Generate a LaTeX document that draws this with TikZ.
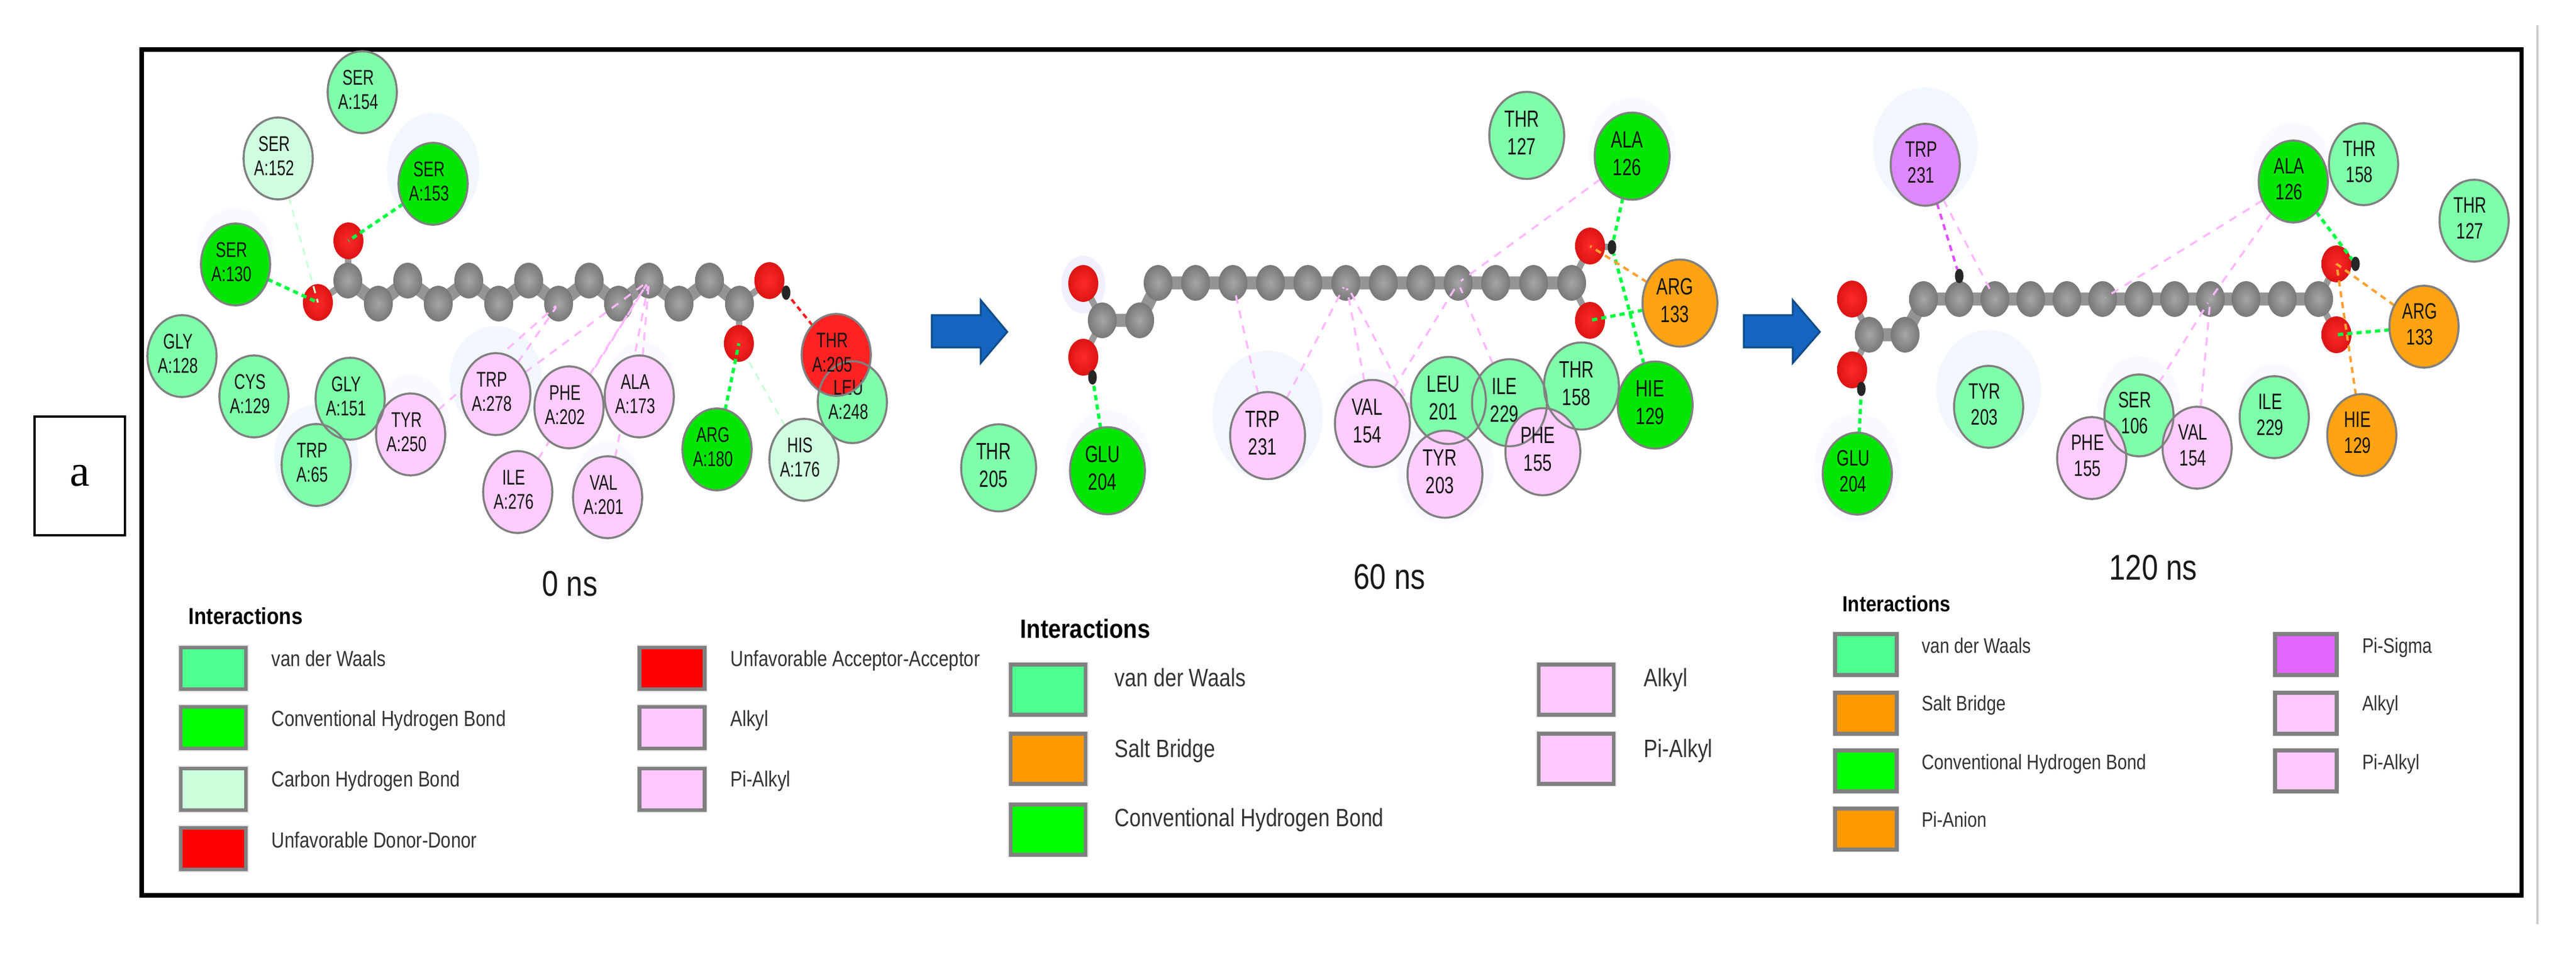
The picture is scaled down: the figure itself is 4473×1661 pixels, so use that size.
\documentclass[tikz,border=0pt]{standalone}
\usepackage{fontspec}
\usetikzlibrary{shapes.geometric}
\setmainfont{Liberation Serif}
\newfontfamily\rsdf{Liberation Sans}[FakeStretch=0.72]
\newfontfamily\legf{Liberation Sans}[FakeStretch=0.82]
\newfontfamily\capf{Liberation Sans}[FakeStretch=0.82]
\newfontfamily\intf{Liberation Sans Bold}[FakeStretch=0.87]
\definecolor{cvdw}{HTML}{80FFAA}
\definecolor{chb}{HTML}{00E600}
\definecolor{cch}{HTML}{CFFFE0}
\definecolor{cpink}{HTML}{FFCCFF}
\definecolor{cred}{HTML}{FF2222}
\definecolor{corg}{HTML}{FFA312}
\definecolor{cpur}{HTML}{DD88FF}
\definecolor{halo}{HTML}{F2F7FE}
\definecolor{halob}{HTML}{F8FAFF}
\definecolor{rim}{HTML}{808080}
\definecolor{lvdw}{HTML}{4DFF8F}
\definecolor{lhb}{HTML}{00FF00}
\definecolor{lch}{HTML}{CCFFDC}
\definecolor{lred}{HTML}{FF0000}
\definecolor{lpink}{HTML}{FFC8FF}
\definecolor{lorg}{HTML}{FF9900}
\definecolor{lpur}{HTML}{E066FF}
\definecolor{lhb2}{HTML}{00FF40}
\definecolor{lnpink}{HTML}{FFB8FF}
\definecolor{lnorg}{HTML}{FFA030}
\definecolor{lnpur}{HTML}{E050FF}
\definecolor{lnpale}{HTML}{C8FFD8}
\definecolor{arrowb}{HTML}{1565C0}
\definecolor{arrowd}{HTML}{0F4C8A}
\definecolor{ored}{HTML}{FF2A2A}
\definecolor{oredd}{HTML}{DC1414}
\definecolor{cgi}{HTML}{A6A6A6}
\definecolor{cgo}{HTML}{787878}
\pgfdeclarelayer{halolayer}
\pgfdeclarelayer{bondlayer}
\pgfdeclarelayer{atomlayer}
\pgfdeclarelayer{connlayer}
\pgfdeclarelayer{filllayer}
\pgfsetlayers{halolayer,bondlayer,atomlayer,connlayer,filllayer,main}
\tikzset{
 res/.style={ellipse,draw=rim,line width=1pt,inner sep=0pt,outer sep=0pt,
   minimum width=2*\rw,minimum height=2*\rh,text=black!92,font=\rsdfont},
 catom/.style={ellipse,inner sep=0pt,outer sep=0pt,minimum width=0.50cm,minimum height=0.62cm,
   shade,inner color=cgi,outer color=cgo},
 oatom/.style={ellipse,inner sep=0pt,outer sep=0pt,minimum width=0.52cm,minimum height=0.64cm,
   shade,inner color=ored,outer color=oredd},
 hatom/.style={ellipse,inner sep=0pt,outer sep=0pt,minimum width=0.15cm,minimum height=0.25cm,fill=black!85},
 bond/.style={line width=6.5pt,draw=black!42,line join=round,line cap=round},
 sbond/.style={line width=3.2pt,draw=black!40},
 hb/.style={line width=1.6pt,draw=lhb2,dash pattern=on 2.6pt off 2pt},
 pale/.style={line width=0.9pt,draw=lnpale,dash pattern=on 3.5pt off 3pt},
 pinkc/.style={line width=1pt,draw=lnpink,dash pattern=on 4pt off 3.6pt,shorten >=-6pt},
 purc/.style={line width=1.2pt,draw=lnpur,dash pattern=on 3pt off 2.4pt},
 orgc/.style={line width=1.2pt,draw=lnorg,dash pattern=on 3pt off 2.4pt},
 redc/.style={line width=1.2pt,draw=red!90,dash pattern=on 2.6pt off 2pt},
 swatch/.style={rectangle,draw=rim,line width=1.9pt,inner sep=0pt,outer sep=0pt,
   preaction={draw=black!12,line width=2.8pt}},
 legtxt/.style={anchor=base west,inner sep=0pt,text=black!80},
 captxt/.style={anchor=base west,inner sep=0pt,text=black!90,font=\capf\fontsize{17.6}{20}\selectfont},
 inttxt/.style={anchor=base west,inner sep=0pt,text=black},
 arrowp/.style={fill=arrowb,draw=arrowd,line width=0.9pt,line join=miter},
}
\newcommand{\rt}[2]{\begin{tabular}{@{}c@{}}#1\\#2\end{tabular}\kern\rk}
\newcommand{\res}[6]{%
  \node[res] (#1) at (#2,#3) {\rt{#5}{#6}};
  \begin{pgfonlayer}{filllayer}
    \fill[#4] (#1.center) ellipse [x radius=\rw,y radius=\rh];
  \end{pgfonlayer}}
\newcommand{\hal}[4]{\fill[halo] (#1,#2) ellipse [x radius=#3*0.01cm,y radius=#4*0.01cm];}
\newcommand{\halb}[4]{\fill[halob] (#1,#2) ellipse [x radius=#3*0.01cm,y radius=#4*0.01cm];}
\newcommand{\swt}[6]{\node[swatch,fill=#4,minimum width=(#5-7)*0.01cm,minimum height=(#6-7)*0.01cm] (#1) at (#2,#3) {};}
\begin{document}
\begin{tikzpicture}[x=0.01cm,y=-0.01cm]
\useasboundingbox (0,0) rectangle (4473,1661);
% frame, label, rule
\node[draw=black,line width=1pt,minimum width=1.57cm,minimum height=2.06cm,inner sep=0pt,outer sep=0pt,
  font=\fontsize{22}{24}\selectfont] (lab) at (138.5,826) {\raisebox{-4pt}{a}};
\draw[black,line width=2.1pt] (246,86) rectangle (4378.5,1554);
\coordinate (ruleT) at (4406,44);
\coordinate (ruleB) at (4406,1604);
\draw[black!20,line width=1.1pt] (ruleT) -- (ruleB);
% halos
\begin{pgfonlayer}{halolayer}
\fill[white] (0,0) rectangle (4473,1661);
\hal{752}{293}{80}{97}\halb{409}{436}{67}{75}\hal{861}{657}{80}{91}\halb{713}{735}{67}{85}
\hal{549}{793}{73}{91}\halb{1113}{678}{62}{85}\halb{1055}{854}{62}{88}
\hal{2201}{721}{96}{112}\halb{2834}{260}{76}{90}\halb{1923}{806}{76}{94}\halb{2509}{809}{85}{100}\halb{2383}{730}{70}{90}
\fill[blue!6] (1881,494) ellipse [x radius=.38cm,y radius=.5cm];
\hal{3343}{255}{91}{103}\hal{3453}{676}{91}{103}\halb{3714}{706}{72}{88}\halb{3982}{303}{72}{90}\halb{3225}{812}{75}{95}\halb{3949}{715}{65}{85}
\end{pgfonlayer}
% ---------------- panel 0 ns
\begin{pgfonlayer}{atomlayer}
\foreach \n/\x in {1/604,2/708,3/814,4/918,5/1023,6/1127,7/1232} \node[catom] (at\n) at (\x,487) {};
\foreach \n/\x in {1/657,2/761,3/866,4/970,5/1074,6/1179,7/1284} \node[catom] (ab\n) at (\x,527) {};
\node[oatom] (aOt) at (605,418) {};
\node[oatom] (aOl) at (552,525) {};
\node[oatom] (aOr) at (1336,487) {};
\node[oatom] (aOb) at (1283,596) {};
\node[hatom] (aH) at (1365,508) {};
\end{pgfonlayer}
\begin{pgfonlayer}{bondlayer}
\draw[bond] (at1.center)--(ab1.center)--(at2.center)--(ab2.center)--(at3.center)--(ab3.center)--(at4.center)--(ab4.center)--(at5.center)--(ab5.center)--(at6.center)--(ab6.center)--(at7.center)--(ab7.center);
\draw[sbond] (at1.center)--(aOt.center);
\draw[sbond] (at1.center)--(aOl.center);
\draw[sbond] (ab7.center)--(aOr.center);
\draw[sbond] (ab7.center)--(aOb.center);
\draw[sbond] (aOr.center)--(aH.center);
\end{pgfonlayer}
\def\rw{0.6cm}\def\rh{0.71cm}\def\rk{4pt}
\def\rsdfont{\rsdf\fontsize{10.5}{11.9}\selectfont}
\res{aS154}{629}{160}{cvdw}{SER}{A:154}
\res{aS152}{483}{275}{cch}{SER}{A:152}
\res{aS153}{752}{319}{chb}{SER}{A:153}
\res{aS130}{409}{459}{chb}{SER}{A:130}
\res{aG128}{316}{618}{cvdw}{GLY}{A:128}
\res{aC129}{441}{688}{cvdw}{CYS}{A:129}
\res{aG151}{608}{692}{cvdw}{GLY}{A:151}
\res{aT65}{549}{807}{cvdw}{TRP}{A:65}
\res{aY250}{713}{754}{cpink}{TYR}{A:250}
\res{aT278}{861}{684}{cpink}{TRP}{A:278}
\res{aP202}{988}{707}{cpink}{PHE}{A:202}
\res{aA173}{1110}{688}{cpink}{ALA}{A:173}
\res{aI276}{899}{854}{cpink}{ILE}{A:276}
\res{aV201}{1055}{863}{cpink}{VAL}{A:201}
\res{aR180}{1245}{780}{chb}{ARG}{A:180}
\res{aL248}{1480}{698}{cvdw}{LEU}{A:248}
\res{aH176}{1396}{798}{cch}{HIS}{A:176}
\res{aT205}{1452}{616}{cred}{THR}{A:205}
\begin{pgfonlayer}{connlayer}
\draw[hb] (aS153)--(aOt.center);
\draw[hb] (aS130)--(aOl.center);
\draw[pale] (aS152)--(aOl.center);
\draw[redc] (aT205)--(aH);
\draw[hb] (aR180)--(aOb.center);
\draw[pale] (aH176)--(aOb);
\draw[pinkc] (aY250)--(ab4);
\draw[pinkc] (aT278)--(ab4);
\draw[pinkc] (aT278)--(at6);
\draw[pinkc] (aP202)--(at6);
\draw[pinkc] (aI276)--(at6);
\draw[pinkc] (aA173)--(at6);
\draw[pinkc] (aV201)--(at6);
\end{pgfonlayer}
% arrow 1
\draw[arrowp] (1618,547)--(1703,547)--(1703,521)--(1749,576)--(1703,630)--(1703,603)--(1618,603)--cycle;
% ---------------- panel 60 ns
\begin{pgfonlayer}{atomlayer}
\foreach \n/\x in {1/2011,2/2076,3/2141,4/2206,5/2271,6/2337,7/2402,8/2467,9/2532,10/2597,11/2663,12/2729} \node[catom] (bt\n) at (\x,491) {};
\node[catom] (bl1) at (1979,556) {};
\node[catom] (bl2) at (1914,556) {};
\node[oatom] (bO1) at (1881,492) {};
\node[oatom] (bO2) at (1881,620) {};
\node[hatom] (bH1) at (1897,655) {};
\node[oatom] (bO3) at (2761,427) {};
\node[oatom] (bO4) at (2761,556) {};
\node[hatom] (bH2) at (2799,429) {};
\end{pgfonlayer}
\begin{pgfonlayer}{bondlayer}
\draw[bond] (bl2.center)--(bl1.center)--(bt1.center)--(bt12.center);
\draw[sbond] (bl2.center)--(bO1.center);
\draw[sbond] (bl2.center)--(bO2.center);
\draw[sbond] (bO2.center)--(bH1.center);
\draw[sbond] (bt12.center)--(bO3.center);
\draw[sbond] (bt12.center)--(bO4.center);
\draw[sbond] (bO3.center)--(bH2.center);
\end{pgfonlayer}
\def\rw{0.65cm}\def\rh{0.755cm}\def\rk{5pt}
\def\rsdfont{\rsdf\fontsize{11.6}{13.6}\selectfont}
\res{bT127}{2651}{235}{cvdw}{THR}{127}
\res{bA126}{2834}{271}{chb}{ALA}{126}
\res{bR133}{2917}{526}{corg}{ARG}{133}
\res{bH129}{2874}{703}{chb}{HIE}{129}
\res{bT158}{2746}{670}{cvdw}{THR}{158}
\res{bL201}{2515}{695}{cvdw}{LEU}{201}
\res{bI229}{2621}{699}{cvdw}{ILE}{229}
\res{bF155}{2679}{784}{cpink}{PHE}{155}
\res{bY203}{2509}{823}{cpink}{TYR}{203}
\res{bV154}{2383}{735}{cpink}{VAL}{154}
\res{bT231}{2201}{756}{cpink}{TRP}{231}
\res{bE204}{1923}{817}{chb}{GLU}{204}
\res{bT205}{1734}{812}{cvdw}{THR}{205}
\begin{pgfonlayer}{connlayer}
\draw[hb] (bA126)--(bH2);
\draw[hb] (bH129)--(bH2);
\draw[hb] (bR133)--(bO4.center);
\draw[orgc] (bR133)--(bO3.center);
\draw[hb] (bE204)--(bH1);
\draw[pinkc] (bT231)--(bt3);
\draw[pinkc] (bT231)--(bt6);
\draw[pinkc] (bV154)--(bt6);
\draw[pinkc] (bY203)--(bt6);
\draw[pinkc] (bV154)--(bt9);
\draw[pinkc] (bI229)--(bt9);
\draw[pinkc] (bA126)--(bt9);
\end{pgfonlayer}
% arrow 2
\draw[arrowp] (3028,547)--(3113,547)--(3113,521)--(3160,576)--(3113,630)--(3113,603)--(3028,603)--cycle;
% ---------------- panel 120 ns
\begin{pgfonlayer}{atomlayer}
\foreach \n/\x in {1/3340,2/3402,3/3464,4/3526,5/3589,6/3651,7/3714,8/3776,9/3838,10/3900,11/3963,12/4026} \node[catom] (ct\n) at (\x,519) {};
\node[catom] (cl1) at (3308,581) {};
\node[catom] (cl2) at (3246,581) {};
\node[oatom] (cO1) at (3216,519) {};
\node[oatom] (cO2) at (3216,642) {};
\node[hatom] (cH1) at (3232,675) {};
\node[oatom] (cO3) at (4057,458) {};
\node[oatom] (cO4) at (4057,581) {};
\node[hatom] (cH2) at (4090,458) {};
\node[hatom] (cH3) at (3402,479) {};
\end{pgfonlayer}
\begin{pgfonlayer}{bondlayer}
\draw[bond] (cl2.center)--(cl1.center)--(ct1.center)--(ct12.center);
\draw[sbond] (cl2.center)--(cO1.center);
\draw[sbond] (cl2.center)--(cO2.center);
\draw[sbond] (cO2.center)--(cH1.center);
\draw[sbond] (ct12.center)--(cO3.center);
\draw[sbond] (ct12.center)--(cO4.center);
\draw[sbond] (cO3.center)--(cH2.center);
\draw[sbond] (ct2.center)--(cH3.center);
\end{pgfonlayer}
\def\rw{0.6cm}\def\rh{0.71cm}\def\rk{4pt}
\def\rsdfont{\rsdf\fontsize{11}{12.8}\selectfont}
\res{cT231}{3343}{286}{cpur}{TRP}{231}
\res{cT158}{4104}{285}{cvdw}{THR}{158}
\res{cA126}{3982}{315}{chb}{ALA}{126}
\res{cT127}{4296}{383}{cvdw}{THR}{127}
\res{cR133}{4209}{567}{corg}{ARG}{133}
\res{cH129}{4101}{755}{corg}{HIE}{129}
\res{cI229}{3949}{724}{cvdw}{ILE}{229}
\res{cS106}{3714}{721}{cvdw}{SER}{106}
\res{cV154}{3815}{777}{cpink}{VAL}{154}
\res{cF155}{3632}{795}{cpink}{PHE}{155}
\res{cY203}{3453}{706}{cvdw}{TYR}{203}
\res{cE204}{3225}{822}{chb}{GLU}{204}
\begin{pgfonlayer}{connlayer}
\draw[purc] (cT231)--(cH3);
\draw[pinkc] (cT231)--(ct3);
\draw[pinkc] (cA126)--(ct6);
\draw[pinkc] (cA126)--(ct9);
\draw[pinkc] (cS106)--(ct9);
\draw[pinkc] (cV154)--(ct9);
\draw[hb] (cA126)--(cH2);
\draw[orgc] (cR133)--(cO3.center);
\draw[orgc] (cH129)--(cO3.center);
\draw[hb] (cR133)--(cO4.center);
\draw[hb] (cE204)--(cH1);
\end{pgfonlayer}
% captions
\node[captxt] (capA) at (941,1034) {0 ns};
\node[captxt] (capB) at (2350,1022) {60 ns};
\node[captxt] (capC) at (3662,1006) {120 ns};
% legend 0 ns
\def\lf{\legf\fontsize{10.8}{12}\selectfont}
\node[inttxt,font=\intf\fontsize{11.4}{13}\selectfont] (la0) at (327,1083) {Interactions};
\swt{la1}{370.5}{1160}{lvdw}{120}{79}
\swt{la2}{370.5}{1263}{lhb}{120}{79}
\swt{la3}{370.5}{1370}{lch}{120}{79}
\swt{la4}{370.5}{1473}{lred}{120}{79}
\swt{la5}{1167}{1160}{lred}{120}{79}
\swt{la6}{1167}{1263}{lpink}{120}{79}
\swt{la7}{1167}{1370}{lpink}{120}{79}
\node[legtxt,font=\lf] (ta1) at (471,1156) {van der Waals};
\node[legtxt,font=\lf] (ta2) at (471,1260) {Conventional Hydrogen Bond};
\node[legtxt,font=\lf] (ta3) at (471,1365) {Carbon Hydrogen Bond};
\node[legtxt,font=\lf] (ta4) at (471,1471) {Unfavorable Donor-Donor};
\node[legtxt,font=\lf] (ta5) at (1268,1156) {Unfavorable Acceptor-Acceptor};
\node[legtxt,font=\lf] (ta6) at (1268,1260) {Alkyl};
\node[legtxt,font=\lf] (ta7) at (1268,1365) {Pi-Alkyl};
% legend 60 ns
\def\lf{\legf\fontsize{12.4}{14}\selectfont}
\node[inttxt,font=\intf\fontsize{13}{15}\selectfont] (lb0) at (1771,1107) {Interactions};
\swt{lb1}{1820}{1197}{lvdw}{137}{94}
\swt{lb2}{1820}{1317}{lorg}{137}{94}
\swt{lb3}{1820}{1440}{lhb}{137}{94}
\swt{lb4}{2737}{1197}{lpink}{137}{94}
\swt{lb5}{2737}{1317}{lpink}{137}{94}
\node[legtxt,font=\lf] (tb1) at (1935,1191) {van der Waals};
\node[legtxt,font=\lf] (tb2) at (1935,1314) {Salt Bridge};
\node[legtxt,font=\lf] (tb3) at (1935,1434) {Conventional Hydrogen Bond};
\node[legtxt,font=\lf] (tb4) at (2854,1191) {Alkyl};
\node[legtxt,font=\lf] (tb5) at (2854,1314) {Pi-Alkyl};
% legend 120 ns
\def\lf{\legf\fontsize{10.35}{12}\selectfont}
\node[inttxt,font=\intf\fontsize{10.8}{12.5}\selectfont] (lc0) at (3199,1061) {Interactions};
\swt{lc1}{3240}{1136}{lvdw}{114}{78}
\swt{lc2}{3240}{1238}{lorg}{114}{78}
\swt{lc3}{3240}{1338}{lhb}{114}{78}
\swt{lc4}{3240}{1439}{lorg}{114}{78}
\swt{lc5}{4004}{1136}{lpur}{114}{78}
\swt{lc6}{4004}{1238}{lpink}{114}{78}
\swt{lc7}{4004}{1338}{lpink}{114}{78}
\node[legtxt,font=\lf] (tc1) at (3336,1133) {van der Waals};
\node[legtxt,font=\lf] (tc2) at (3336,1233) {Salt Bridge};
\node[legtxt,font=\lf] (tc3) at (3336,1335) {Conventional Hydrogen Bond};
\node[legtxt,font=\lf] (tc4) at (3336,1435) {Pi-Anion};
\node[legtxt,font=\lf] (tc5) at (4101,1133) {Pi-Sigma};
\node[legtxt,font=\lf] (tc6) at (4101,1233) {Alkyl};
\node[legtxt,font=\lf] (tc7) at (4101,1335) {Pi-Alkyl};
\end{tikzpicture}
\end{document}
